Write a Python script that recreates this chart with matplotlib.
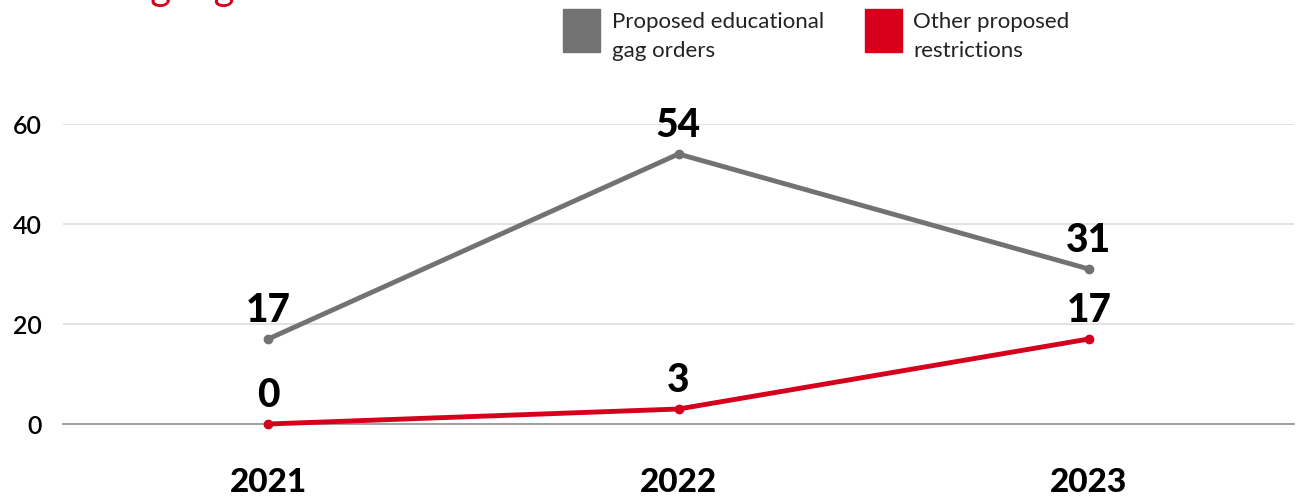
import matplotlib.pyplot as plt
from matplotlib.patches import Rectangle

years = ['2021', '2022', '2023']
gag_orders = [17, 54, 31]
other_restrictions = [0, 3, 17]

gray = '#727272'
red = '#d6001c'

plt.rcParams['font.family'] = ['Lato', 'DejaVu Sans']

fig = plt.figure(figsize=(12.97, 5.04), dpi=100)
ax = fig.add_axes([63 / 1297, 80 / 504, 1231 / 1297, 300 / 504])

x = range(len(years))
ax.plot(x, gag_orders, color=gray, lw=3.5, marker='o', ms=6, clip_on=False, zorder=3)
ax.plot(x, other_restrictions, color=red, lw=3.5, marker='o', ms=6, clip_on=False, zorder=3)

# value labels above each point
for xi, v in zip(x, gag_orders):
    ax.annotate(str(v), (xi, v), xytext=(0, 7), textcoords='offset points',
                ha='center', va='bottom', fontsize=28, fontweight='black')
for xi, v in zip(x, other_restrictions):
    ax.annotate(str(v), (xi, v), xytext=(0, 7), textcoords='offset points',
                ha='center', va='bottom', fontsize=28, fontweight='black')

ax.set_xlim(-0.5, 2.5)
ax.set_ylim(0, 60)
ax.set_yticks([0, 20, 40, 60])
ax.set_xticks(list(x))
ax.set_xticklabels(years, fontsize=24, fontweight='black')
ax.tick_params(axis='x', length=0, pad=32)
ax.tick_params(axis='y', length=0, pad=15, labelsize=18)
for lab in ax.get_yticklabels():
    lab.set_fontweight('semibold')

ax.grid(axis='y', color='#dddddd', lw=1.2)
ax.set_axisbelow(True)
for s in ['top', 'right', 'left']:
    ax.spines[s].set_visible(False)
ax.spines['bottom'].set_color('#999999')
ax.spines['bottom'].set_linewidth(1.3)

# legend drawn by hand as colored squares with text
fig.patches.append(Rectangle((563 / 1297, 1 - 52 / 504), 37 / 1297, 43 / 504,
                             transform=fig.transFigure, color=gray))
fig.patches.append(Rectangle((865 / 1297, 1 - 52 / 504), 37 / 1297, 43 / 504,
                             transform=fig.transFigure, color=red))
fig.text(612 / 1297, 1 - 12 / 504, 'Proposed educational\ngag orders', fontsize=16,
         va='top', ha='left', linespacing=1.55, color='#222222')
fig.text(913 / 1297, 1 - 12 / 504, 'Other proposed\nrestrictions', fontsize=16,
         va='top', ha='left', linespacing=1.55, color='#222222')

# title, cut off at the top edge as in the source
fig.text(15 / 1297, 1.0, 'affecting higher education', fontsize=29,
         color=red, va='baseline', ha='left')

fig.savefig('out.png', dpi=100)
